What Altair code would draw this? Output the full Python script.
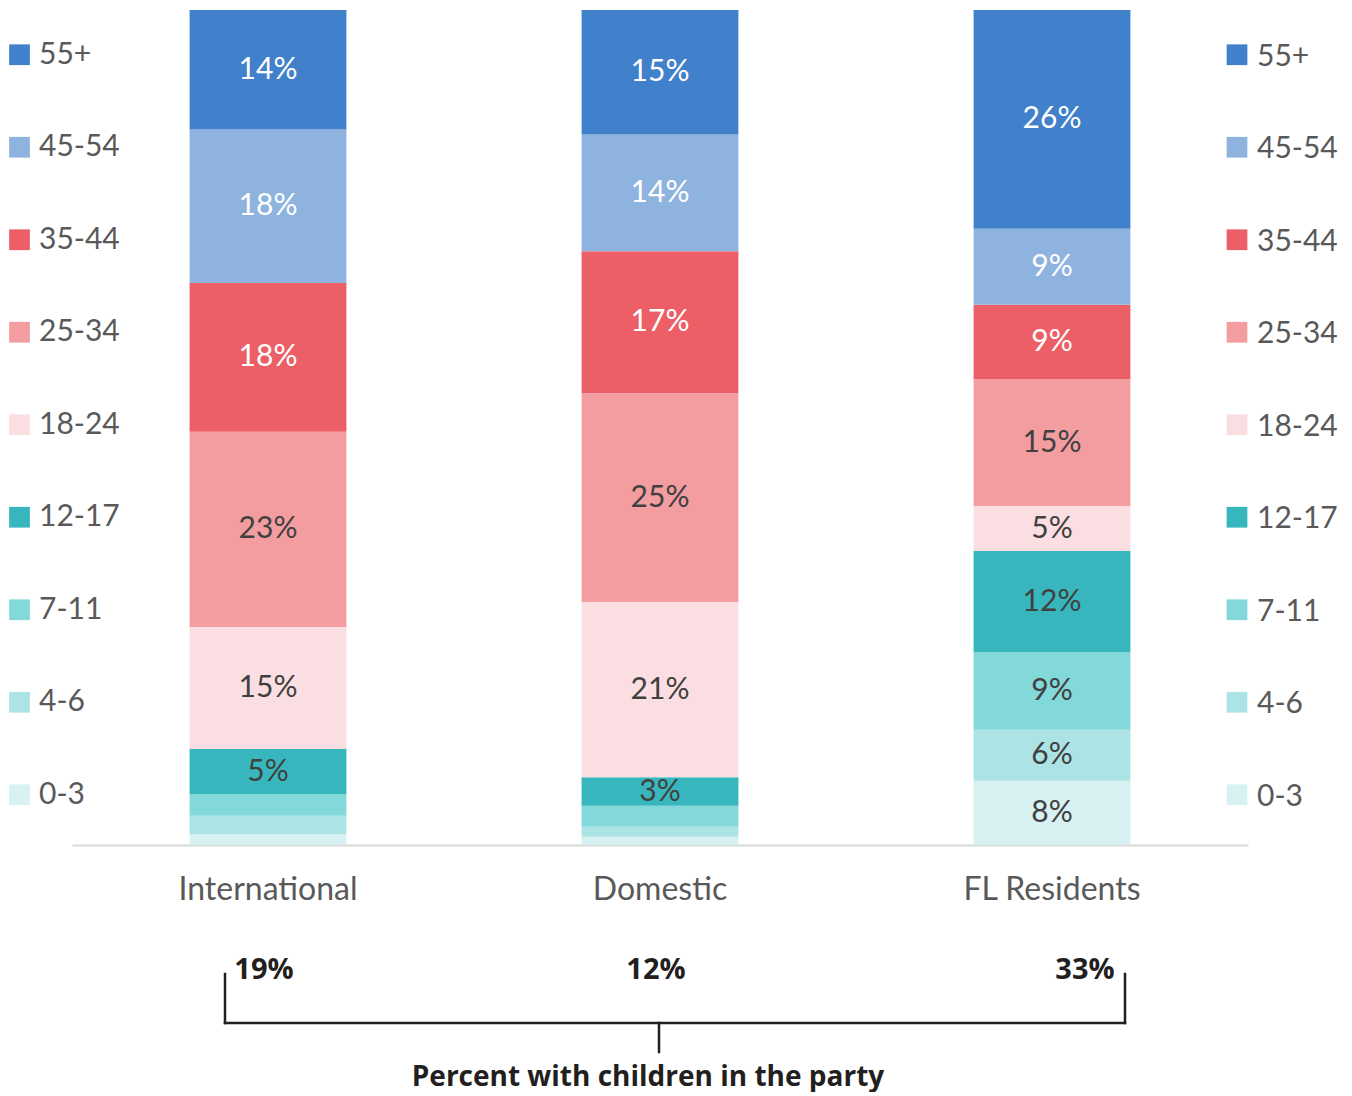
import altair as alt
import pandas as pd

# ---- data ----
sources = ["International", "Domestic", "FL Residents"]
ages = ["0-3", "4-6", "7-11", "12-17", "18-24", "25-34", "35-44", "45-54", "55+"]
international = [1.3, 2.2, 2.6, 5.4, 14.6, 23.4, 17.8, 18.4, 14.3]
domestic = [1.0, 1.2, 2.5, 3.4, 21.0, 25.0, 17.0, 14.0, 14.9]
fl_residents = [7.7, 6.1, 9.3, 12.1, 5.4, 15.2, 8.9, 9.1, 26.2]
colors = ["#D8F1F2", "#ACE4E5", "#83D8DA", "#37B7BD", "#FBDEE1",
          "#F39DA0", "#EC5F67", "#8FB3DF", "#4180CA"]
children_pct = [19, 12, 33]
footer = "Percent with children in the party"
dark_ages = ["55+", "45-54", "35-44"]

rows = []
for src, vals in zip(sources, [international, domestic, fl_residents]):
    for i, (a, v) in enumerate(zip(ages, vals)):
        rows.append({"Source": src, "Age": a, "idx": i, "Value": v})
df = pd.DataFrame(rows)

ages_top = ages[::-1]
leg_df = pd.DataFrame({"Age": ages_top})
ann_df = pd.DataFrame({"Source": sources, "pct": children_pct})
foot_df = pd.DataFrame({"t": [footer]})
one = pd.DataFrame({"k": [0]})

FONT = "Lato"
BOLD_FONT = "Open Sans"
GREY = "#595959"
INK = "#231F20"

xscale = alt.Scale(domain=sources, paddingInner=0.6, paddingOuter=0.3)
X = alt.X("Source:N", scale=xscale, sort=sources,
          axis=alt.Axis(title=None, labelFont=FONT, labelFontSize=32,
                        labelColor=GREY, domainColor="#D9D9D9", domainWidth=2,
                        ticks=False, labelPadding=29, labelAngle=0))
yscale = alt.Scale(domain=[0, 100], nice=False)
color_scale = alt.Scale(domain=ages, range=colors)

base = alt.Chart(df).transform_stack(
    stack="Value", groupby=["Source"], as_=["v0", "v1"],
    sort=[alt.SortField("idx", order="ascending")]
).transform_calculate(
    mid="(datum.v0 + datum.v1) / 2",
    label="format(datum.Value, '.0f') + '%'"
)

bars = base.mark_bar().encode(
    x=X,
    y=alt.Y("v0:Q", scale=yscale, axis=None),
    y2="v1:Q",
    color=alt.Color("Age:N", scale=color_scale, legend=None),
)

labels = base.transform_filter("datum.Value >= 3").mark_text(
    font=FONT, fontSize=30, baseline="middle", align="center"
).encode(
    x=X,
    y=alt.Y("mid:Q", scale=yscale, axis=None),
    text="label:N",
    color=alt.condition(alt.FieldOneOfPredicate(field="Age", oneOf=dark_ages),
                        alt.value("white"), alt.value("#404040")),
)

leg_y = alt.Y("Age:N", sort=ages_top,
              scale=alt.Scale(type="point", domain=ages_top, padding=0.5135, align=0.471),
              axis=None)

leg_sq_l = alt.Chart(leg_df).mark_square(size=430, opacity=1).encode(
    x=alt.value(-52.5), y=leg_y,
    color=alt.Color("Age:N", scale=color_scale, legend=None))
leg_tx_l = alt.Chart(leg_df).mark_text(
    align="left", baseline="middle", font=FONT, fontSize=30, color=GREY
).encode(x=alt.value(-33), y=leg_y, text="Age:N")

leg_sq_r = alt.Chart(leg_df).mark_square(size=430, opacity=1).encode(
    x=alt.value(1165), y=leg_y,
    color=alt.Color("Age:N", scale=color_scale, legend=None))
leg_tx_r = alt.Chart(leg_df).mark_text(
    align="left", baseline="middle", font=FONT, fontSize=30, color=GREY, dy=2
).encode(x=alt.value(1185), y=leg_y, text="Age:N")

ann_base = alt.Chart(ann_df).transform_calculate(
    lab="datum.pct + '%'")
ann_a = ann_base.transform_filter("datum.Source != 'FL Residents'").mark_text(
    font=BOLD_FONT, fontWeight="bold", fontSize=29, color=INK,
    baseline="middle", align="center", dx=-4
).encode(x=X, y=alt.value(960), text="lab:N")
ann_b = ann_base.transform_filter("datum.Source == 'FL Residents'").mark_text(
    font=BOLD_FONT, fontWeight="bold", fontSize=29, color=INK,
    baseline="middle", align="center", dx=33
).encode(x=X, y=alt.value(960), text="lab:N")

rule_kw = dict(color=INK, strokeWidth=2.5, strokeCap="square")
r_left = alt.Chart(one).mark_rule(**rule_kw).encode(
    x=alt.value(153), y=alt.value(964), y2=alt.value(1013))
r_right = alt.Chart(one).mark_rule(**rule_kw).encode(
    x=alt.value(1053), y=alt.value(964), y2=alt.value(1013))
r_horiz = alt.Chart(one).mark_rule(**rule_kw).encode(
    x=alt.value(153), x2=alt.value(1053), y=alt.value(1013))
r_tick = alt.Chart(one).mark_rule(**rule_kw).encode(
    x=alt.value(587), y=alt.value(1013), y2=alt.value(1042))

foot = alt.Chart(foot_df).mark_text(
    font=BOLD_FONT, fontWeight="bold", fontSize=28, color=INK,
    baseline="middle", align="center"
).encode(x=alt.value(576), y=alt.value(1068), text="t:N")

chart = alt.layer(
    bars, labels, leg_sq_l, leg_tx_l, leg_sq_r, leg_tx_r,
    ann_a, ann_b, r_left, r_right, r_horiz, r_tick, foot
).resolve_scale(y="independent").properties(
    width=1176, height=835,
    padding={"left": 1, "top": 2, "right": 0, "bottom": 0},
).configure_view(stroke=None)

chart.save("out.html", embed_options={"renderer": "svg", "actions": False})
